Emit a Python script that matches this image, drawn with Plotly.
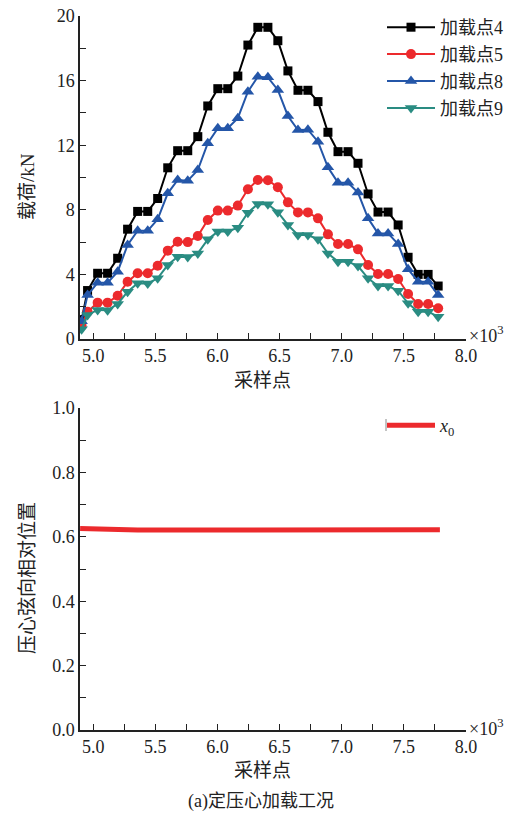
import plotly.graph_objects as go

# sample positions (x10^3)
sample_x = [4.907, 4.955, 5.036, 5.116, 5.197, 5.277, 5.358, 5.439, 5.519, 5.600, 5.680,
            5.761, 5.842, 5.922, 6.003, 6.083, 6.164, 6.245, 6.325, 6.406, 6.486,
            6.567, 6.648, 6.728, 6.809, 6.889, 6.970, 7.051, 7.131, 7.212, 7.292,
            7.373, 7.454, 7.534, 7.615, 7.695, 7.776]

load4 = [1.2, 3.0, 4.07, 4.07, 5.0, 6.8, 7.9, 7.9, 8.7, 10.6, 11.66, 11.66, 12.53, 14.43,
         15.5, 15.5, 16.28, 18.2, 19.3, 19.3, 18.47, 16.6, 15.4, 15.4, 14.7, 12.8, 11.6,
         11.6, 10.88, 8.98, 7.86, 7.86, 7.06, 5.06, 4.0, 4.0, 3.28]
load5 = [0.8, 1.69, 2.25, 2.25, 2.68, 3.55, 4.07, 4.07, 4.54, 5.47, 6.02, 6.0, 6.38, 7.37,
         7.95, 7.95, 8.26, 9.27, 9.85, 9.83, 9.4, 8.46, 7.84, 7.84, 7.47, 6.48, 5.88, 5.88,
         5.55, 4.58, 4.02, 4.02, 3.72, 2.79, 2.17, 2.17, 1.9]
load8 = [1.1, 2.72, 3.49, 3.49, 4.17, 5.82, 6.71, 6.71, 7.41, 9.02, 9.85, 9.8, 10.46, 12.12,
         13.05, 13.05, 13.67, 15.31, 16.24, 16.2, 15.42, 13.81, 12.94, 12.96, 12.22, 10.63,
         9.68, 9.68, 9.07, 7.47, 6.54, 6.54, 5.88, 4.32, 3.55, 3.55, 2.72]
load9 = [0.6, 1.49, 1.8, 1.78, 2.17, 2.93, 3.45, 3.44, 3.76, 4.58, 5.1, 5.08, 5.3, 6.17,
         6.65, 6.65, 6.89, 7.82, 8.36, 8.34, 7.85, 7.06, 6.44, 6.44, 6.17, 5.3, 4.79, 4.79,
         4.52, 3.76, 3.28, 3.28, 2.99, 2.21, 1.69, 1.69, 1.38]

x0_x = [4.895, 4.955, 5.036, 5.116, 5.197, 5.277, 5.358, 5.439, 5.519, 5.600, 5.680,
        5.761, 5.842, 5.922, 6.003, 6.083, 6.164, 6.245, 6.325, 6.406, 6.486,
        6.567, 6.648, 6.728, 6.809, 6.889, 6.970, 7.051, 7.131, 7.212, 7.292,
        7.373, 7.454, 7.534, 7.615, 7.695, 7.790]
x0_vals = [0.626, 0.625, 0.623, 0.622, 0.621, 0.622, 0.621, 0.621, 0.622, 0.621, 0.621,
           0.621, 0.622, 0.621, 0.621, 0.621, 0.621, 0.621, 0.621, 0.621, 0.621,
           0.621, 0.621, 0.621, 0.621, 0.621, 0.621, 0.621, 0.621, 0.621, 0.621,
           0.622, 0.622, 0.621, 0.622, 0.622, 0.622]

x_ticks = [5.0, 5.5, 6.0, 6.5, 7.0, 7.5, 8.0]

names = ["加载点4", "加载点5", "加载点8", "加载点9"]
colors = ["#000000", "#EC2A2D", "#2456A8", "#2A8C82"]
symbols = ["square", "circle", "triangle-up", "triangle-down"]
sizes = [9, 10, 11, 11]
series = [load4, load5, load8, load9]

SERIF = '"Liberation Serif", "Noto Sans CJK SC", serif'
W, H = 513, 814
INK = "#222222"

fig = go.Figure()
for i, (nm, col, sym, sz, ys) in enumerate(zip(names, colors, symbols, sizes, series)):
    fig.add_trace(go.Scatter(
        x=sample_x, y=ys, name=nm, mode="lines+markers",
        line=dict(color=col, width=2),
        marker=dict(symbol=sym, size=sz, color=col),
        xaxis="x", yaxis="y", legend="legend", legendgroup=f"g{i}"))

fig.add_trace(go.Scatter(
    x=x0_x, y=x0_vals, name="<i>x</i><sub>0</sub>", mode="lines",
    line=dict(color="#EC2A2D", width=5),
    xaxis="x2", yaxis="y2", legend="legend2"))

axis_common = dict(
    showline=True, linecolor=INK, linewidth=1.5, mirror=False,
    showgrid=False, zeroline=False, ticks="inside", ticklen=6, tickwidth=1.3,
    tickcolor=INK, tickfont=dict(family=SERIF, size=18, color=INK))

xd = [80 / W, 466 / W]
fig.update_layout(
    width=W, height=H, margin=dict(l=0, r=0, t=0, b=0, autoexpand=False),
    paper_bgcolor="white", plot_bgcolor="white", showlegend=True,
    xaxis=dict(domain=xd, range=[4.894, 8.0], tickvals=x_ticks,
               ticktext=[f"{v:.1f}" for v in x_ticks],
               minor=dict(ticks="inside", ticklen=6, dtick=0.25, tick0=5.0, tickcolor=INK),
               anchor="y", **axis_common),
    yaxis=dict(domain=[(H - 339) / H, (H - 16) / H], range=[0, 20], dtick=4, tick0=0,
               minor=dict(ticks="inside", ticklen=6, dtick=2, tick0=0, tickcolor=INK),
               anchor="x", **axis_common),
    xaxis2=dict(domain=xd, range=[4.894, 8.0], tickvals=x_ticks,
                ticktext=[f"{v:.1f}" for v in x_ticks],
                minor=dict(ticks="inside", ticklen=6, dtick=0.25, tick0=5.0, tickcolor=INK),
                anchor="y2", **axis_common),
    yaxis2=dict(domain=[(H - 730) / H, (H - 408) / H], range=[0, 1], dtick=0.2, tick0=0,
                tickformat=".1f",
                minor=dict(ticks="inside", ticklen=6, dtick=0.1, tick0=0, tickcolor=INK),
                anchor="x2", **axis_common),
    legend=dict(x=382 / W, y=1 - 9 / H, xanchor="left", yanchor="top",
                bgcolor="rgba(255,255,255,0.9)", font=dict(family=SERIF, size=18, color=INK),
                tracegroupgap=0.5, itemwidth=48),
    legend2=dict(x=382 / W, y=1 - 407 / H, xanchor="left", yanchor="top",
                 bgcolor="rgba(255,255,255,0)", font=dict(family=SERIF, size=18, color=INK),
                 itemwidth=48),
)

# small grey end tick on the x0 legend sample (as in the original figure)
fig.add_shape(type="line", xref="paper", yref="paper",
              x0=386 / W, x1=386 / W, y0=1 - 419 / H, y1=1 - 431 / H,
              line=dict(color="#888888", width=1))

ann = [
    dict(text="载荷/kN", x=27 / W, y=1 - 187 / H, textangle=-90),
    dict(text="压心弦向相对位置", x=27 / W, y=1 - 578 / H, textangle=-90),
    dict(text="采样点", x=262 / W, y=1 - 380 / H),
    dict(text="采样点", x=262 / W, y=1 - 770 / H),
    dict(text="(a)定压心加载工况", x=261 / W, y=0.0, size=18, yanchor="bottom"),
    dict(text="×10<sup>3</sup>", x=467 / W, y=1 - 335 / H, xanchor="left", size=18),
    dict(text="×10<sup>3</sup>", x=467 / W, y=1 - 727 / H, xanchor="left", size=18),
]
for a in ann:
    fig.add_annotation(
        text=a["text"], x=a["x"], y=a["y"], xref="paper", yref="paper",
        xanchor=a.get("xanchor", "center"), yanchor=a.get("yanchor", "middle"),
        textangle=a.get("textangle", 0), showarrow=False,
        font=dict(family=SERIF, size=a.get("size", 19), color=INK))

fig.write_html("out.html")
